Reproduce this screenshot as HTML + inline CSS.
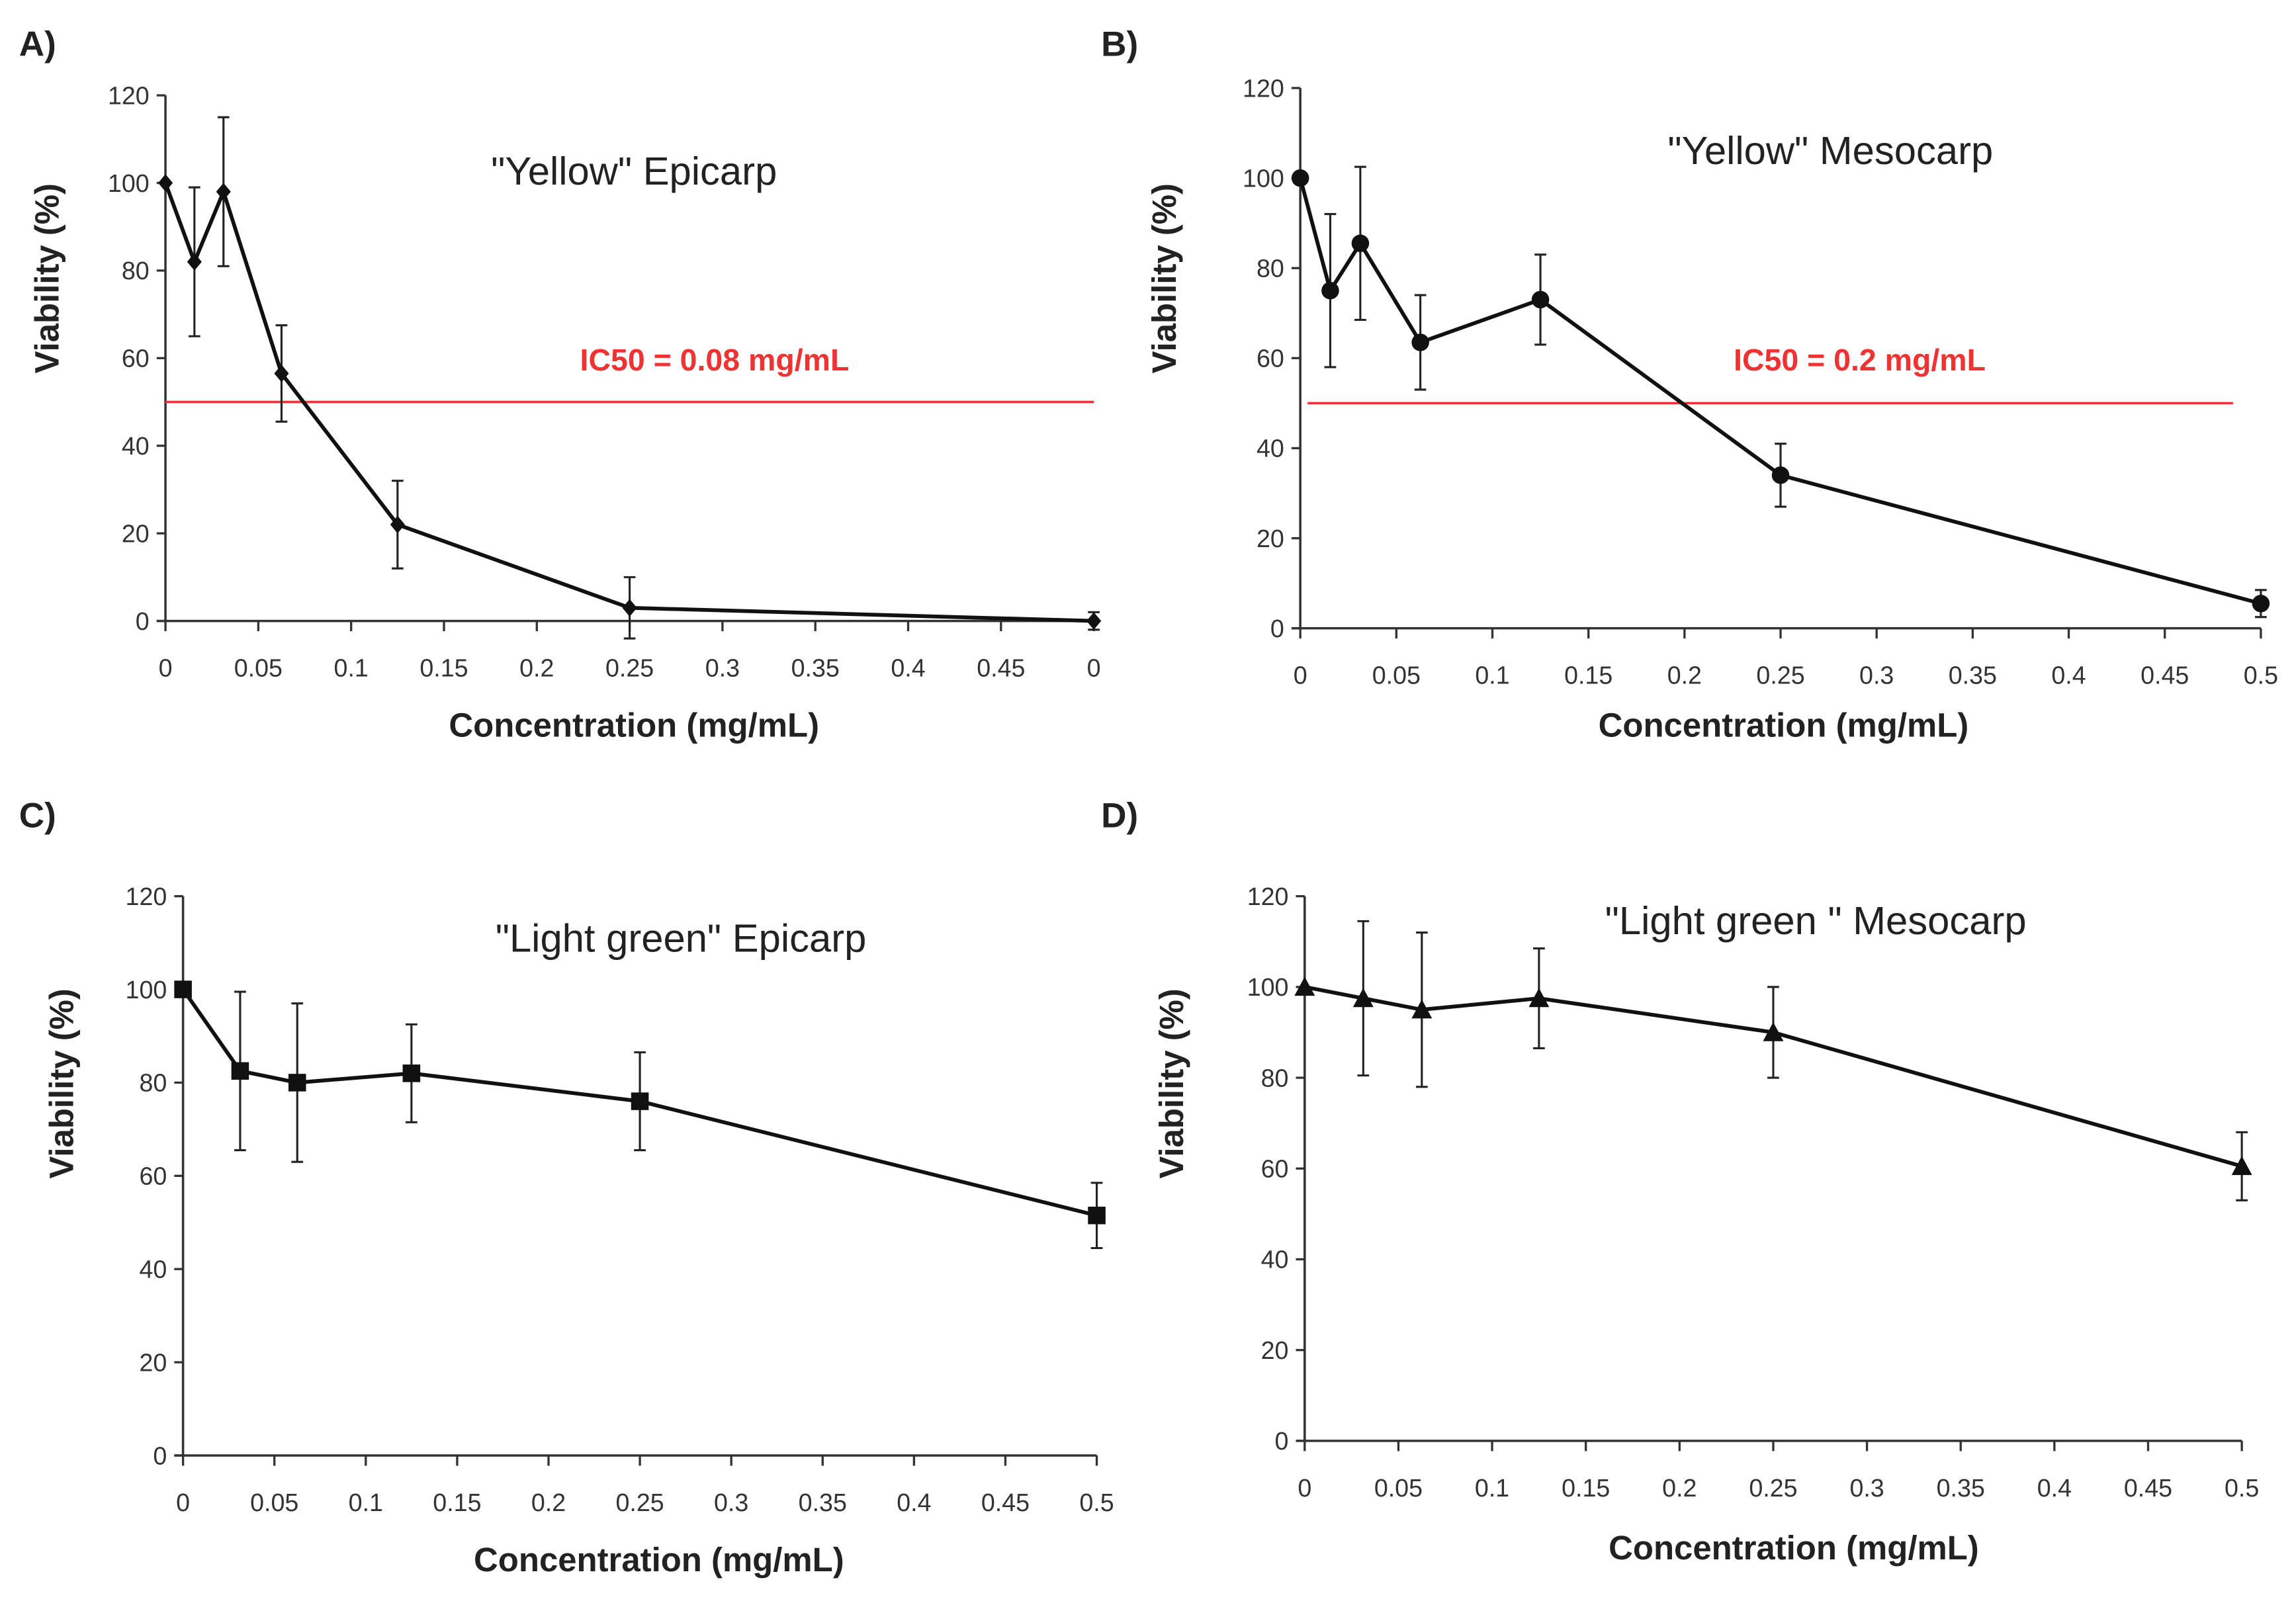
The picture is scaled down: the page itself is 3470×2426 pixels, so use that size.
<!DOCTYPE html>
<html><head><meta charset="utf-8"><style>
html,body{margin:0;padding:0;background:#fff;}
svg{display:block;}
text{font-family:"Liberation Sans",sans-serif;}
</style></head><body>
<svg id="fig" width="3470" height="2426" viewBox="0 0 1568 1096" xmlns="http://www.w3.org/2000/svg"></svg>
<script>
// shared data
const yTicks = [0,20,40,60,80,100,120];
const xTicks = [0,0.05,0.1,0.15,0.2,0.25,0.3,0.35,0.4,0.45,0.5];
const xTickLabelsA = ["0","0.05","0.1","0.15","0.2","0.25","0.3","0.35","0.4","0.45","0"];
const xTickLabels = ["0","0.05","0.1","0.15","0.2","0.25","0.3","0.35","0.4","0.45","0.5"];
// panel A
const concA = [0,0.0156,0.03125,0.0625,0.125,0.25,0.5];
const viabA = [100,82,98,56.5,22,3,0];
const errA = [0,17,17,11,10,7,2];
// panel B
const concB = [0,0.0156,0.03125,0.0625,0.125,0.25,0.5];
const viabB = [100,75,85.5,63.5,73,34,5.5];
const errB = [0,17,17,10.5,10,7,3];
// panel C
const concC = [0,0.03125,0.0625,0.125,0.25,0.5];
const viabC = [100,82.5,80,82,76,51.5];
const errC = [0,17,17,10.5,10.5,7];
// panel D
const concD = [0,0.03125,0.0625,0.125,0.25,0.5];
const viabD = [100,97.5,95,97.5,90,60.5];
const errD = [0,17,17,11,10,7.5];

const NS="http://www.w3.org/2000/svg";
const svg=document.getElementById('fig');
function mk(tag,attrs,parent){const e=document.createElementNS(NS,tag);for(const k in attrs)e.setAttribute(k,attrs[k]);(parent||svg).appendChild(e);return e;}

const panels=[
 {id:'a',label:'A)',lx:13,ly:38,x0:113,x1:747,y0:424,y1:65,title:'"Yellow" Epicarp',tx:433,ty:126,
  xl:xTickLabelsA,xtY:462,xtitle:'Concentration (mg/mL)',xtx:433,xty:503,ylx:40,yly:190,
  conc:concA,viab:viabA,err:errA,marker:'diamond',ic:'IC50 = 0.08 mg/mL',icx:488,icy:253,rl0:113,rl1:747},
 {id:'b',label:'B)',lx:752,ly:38,x0:888,x1:1544,y0:429,y1:60,title:'"Yellow" Mesocarp',tx:1250,ty:112,
  xl:xTickLabels,xtY:467,xtitle:'Concentration  (mg/mL)',xtx:1218,xty:503,ylx:803,yly:190,
  conc:concB,viab:viabB,err:errB,marker:'circle',ic:'IC50 = 0.2 mg/mL',icx:1270,icy:253,rl0:893,rl1:1525},
 {id:'c',label:'C)',lx:13,ly:565,x0:125,x1:749,y0:994,y1:612,title:'"Light green" Epicarp',tx:465,ty:650,
  xl:xTickLabels,xtY:1032,xtitle:'Concentration (mg/mL)',xtx:450,xty:1073,ylx:50,yly:740,
  conc:concC,viab:viabC,err:errC,marker:'square'},
 {id:'d',label:'D)',lx:752,ly:565,x0:891,x1:1531,y0:984,y1:612,title:'"Light green " Mesocarp',tx:1240,ty:638,
  xl:xTickLabels,xtY:1022,xtitle:'Concentration (mg/mL)',xtx:1225,xty:1065,ylx:808,yly:740,
  conc:concD,viab:viabD,err:errD,marker:'triangle'}
];

panels.forEach(p=>{
  const g=mk('g',{});
  
  
  const sx=v=>p.x0+(p.x1-p.x0)*v/0.5;
  const sy=v=>p.y0+(p.y1-p.y0)*v/120;
  const lab=mk('text',{x:p.lx,y:p.ly,'font-size':24,'font-weight':'bold',fill:'#222'},g);lab.textContent=p.label;
  
  
  // axes
  const ya=mk('line',{x1:p.x0,y1:p.y0,x2:p.x0,y2:p.y1,stroke:'#333','stroke-width':1.6},g);
  
  
  const xa=mk('line',{x1:p.x0-6,y1:p.y0,x2:p.x1,y2:p.y0,stroke:'#333','stroke-width':1.6},g);
  
  
  yTicks.forEach(t=>{
    mk('line',{x1:p.x0-6,y1:sy(t),x2:p.x0,y2:sy(t),stroke:'#333','stroke-width':1.5},g);
    const tl=mk('text',{x:p.x0-11,y:sy(t)+6,'font-size':17,'text-anchor':'end',fill:'#333'},g);tl.textContent=t;
    
    
  });
  xTicks.forEach((t,i)=>{
    mk('line',{x1:sx(t),y1:p.y0,x2:sx(t),y2:p.y0+7,stroke:'#333','stroke-width':1.5},g);
    const tl=mk('text',{x:sx(t),y:p.xtY,'font-size':17,'text-anchor':'middle',fill:'#333'},g);tl.textContent=p.xl[i];
    
    
  });
  const xt=mk('text',{x:p.xtx,y:p.xty,'font-size':23,'font-weight':'bold','text-anchor':'middle',fill:'#222'},g);xt.textContent=p.xtitle;
  
  
  const yt=mk('text',{x:0,y:0,'font-size':23,'font-weight':'bold','text-anchor':'middle',fill:'#222',transform:`translate(${p.ylx},${p.yly}) rotate(-90)`},g);yt.textContent='Viability (%)';
  
  
  const tt=mk('text',{x:p.tx,y:p.ty,'font-size':27,'text-anchor':'middle',fill:'#222'},g);tt.textContent=p.title;
  
  
  if(p.ic){
    const rl=mk('line',{x1:p.rl0,y1:sy(50),x2:p.rl1,y2:sy(50),stroke:'#e33','stroke-width':1.6},g);
    
    
    const it=mk('text',{x:p.icx,y:p.icy,'font-size':21,'font-weight':'bold','text-anchor':'middle',fill:'#e33'},g);it.textContent=p.ic;
    
    
  }
  // error bars
  p.conc.forEach((c,i)=>{
    if(!p.err[i])return;
    const x=sx(c),a=sy(p.viab[i]+p.err[i]),b=sy(p.viab[i]-p.err[i]);
    const eb=mk('path',{d:`M${x},${a}V${b}M${x-4},${a}H${x+4}M${x-4},${b}H${x+4}`,stroke:'#222','stroke-width':1.4,fill:'none'},g);
    
    
  });
  const line=mk('polyline',{points:p.conc.map((c,i)=>sx(c)+','+sy(p.viab[i])).join(' '),fill:'none',stroke:'#111','stroke-width':2.6},g);
  
  
  p.conc.forEach((c,i)=>{
    const x=sx(c),y=sy(p.viab[i]);let m;
    if(p.marker==='circle')m=mk('circle',{cx:x,cy:y,r:6,fill:'#111'},g);
    else if(p.marker==='square')m=mk('rect',{x:x-6,y:y-6,width:12,height:12,fill:'#111'},g);
    else if(p.marker==='triangle')m=mk('path',{d:`M${x},${y-7}L${x+7},${y+6}L${x-7},${y+6}Z`,fill:'#111'},g);
    else m=mk('path',{d:`M${x},${y-6}L${x+5},${y}L${x},${y+6}L${x-5},${y}Z`,fill:'#111'},g);
    
    
  });
});
</script>
</body></html>
